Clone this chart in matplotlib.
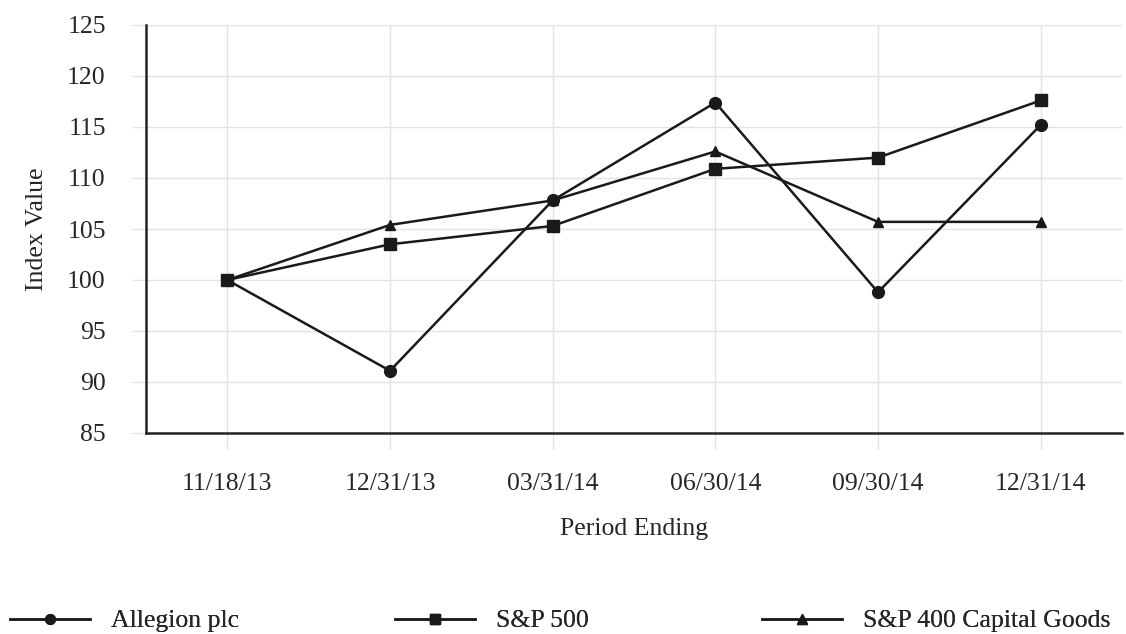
import matplotlib
matplotlib.use("Agg")
import matplotlib.pyplot as plt
from matplotlib.lines import Line2D

categories = ["11/18/13", "12/31/13", "03/31/14", "06/30/14", "09/30/14", "12/31/14"]
allegion = [100.0, 91.1, 107.8, 117.4, 98.8, 115.2]
sp500 = [100.0, 103.5, 105.3, 110.9, 112.0, 117.6]
sp400_cg = [100.0, 105.4, 107.8, 112.6, 105.7, 105.7]
series_names = ["Allegion plc", "S&P 500", "S&P 400 Capital Goods"]
yticks = [85, 90, 95, 100, 105, 110, 115, 120, 125]

plt.rcParams['font.family'] = ['Liberation Serif', 'DejaVu Serif']
FS = 18.5
TC = '#262626'

fig = plt.figure(figsize=(11.26, 6.34), dpi=100)
ax = fig.add_axes([146/1126, 1-433/634, (1122-146)/1126, (433-25)/634])

x = list(range(len(categories)))
grid_c = '#e3e3e3'
lc = '#1a1a1a'
ax.plot(x, allegion, color=lc, lw=1.8, marker='o', ms=8.5, zorder=3)
ax.plot(x, sp500, color=lc, lw=1.8, marker='s', ms=8.5, zorder=3)
ax.plot(x, sp400_cg, color=lc, lw=1.8, marker='^', ms=7.5, zorder=3)

ax.set_xlim(-0.5, len(categories) - 0.5)
ax.set_ylim(85, 125)
ax.set_yticks(yticks)
ax.set_xticks(x)
ax.set_xticklabels(categories)
ax.grid(True, color=grid_c, lw=1.0)
ax.set_axisbelow(True)
for s in ['top', 'right']:
    ax.spines[s].set_visible(False)
for s in ['left', 'bottom']:
    ax.spines[s].set_color('#222222')
    ax.spines[s].set_linewidth(1.8)
ax.tick_params(axis='y', length=10, color=grid_c, width=1.0, pad=19, labelsize=FS, labelcolor=TC)
ax.tick_params(axis='x', length=12, color=grid_c, width=1.0, pad=17, labelsize=FS, labelcolor=TC)

ax.set_ylabel("Index Value", fontsize=FS, color=TC, labelpad=14)
ax.set_xlabel("Period Ending", fontsize=FS, color=TC, labelpad=16)

markers = ['o', 's', '^']
msz = [7, 7, 6.5]
anchors = [10/1126, 395/1126, 762/1126]
for name, m, ms, a in zip(series_names, markers, msz, anchors):
    h = Line2D([], [], color=lc, lw=1.8, marker=m, ms=ms)
    leg = fig.legend([h], [name], loc='center left', bbox_to_anchor=(a, 1-621/634),
                     frameon=False, fontsize=FS, handlelength=3.1, handletextpad=0.85,
                     borderaxespad=0, borderpad=0, labelcolor=TC)
    fig.add_artist(leg)

fig.savefig("out.png", dpi=100)
